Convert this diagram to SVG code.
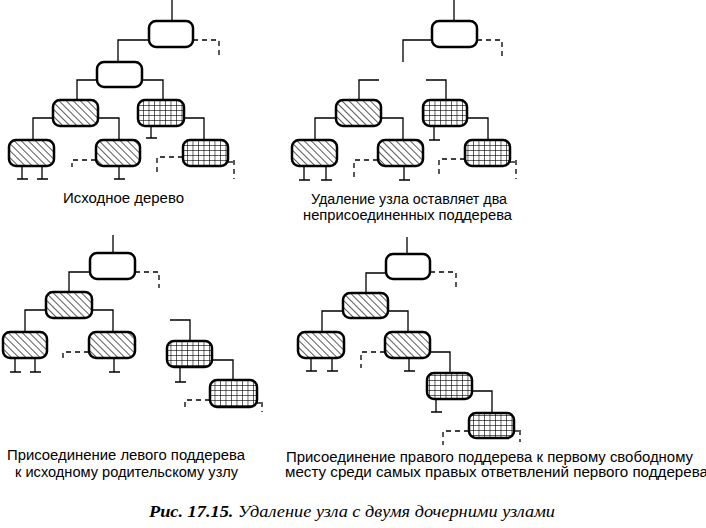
<svg xmlns="http://www.w3.org/2000/svg" width="706" height="528" viewBox="0 0 706 528">
<defs>
<pattern id="hatch" patternUnits="userSpaceOnUse" width="5" height="5" patternTransform="rotate(-45)">
<line x1="0" y1="-1" x2="0" y2="6" stroke="#000" stroke-width="1.3"/>
</pattern>
<pattern id="grid" patternUnits="userSpaceOnUse" width="5.5" height="5">
<line x1="0" y1="0" x2="0" y2="5" stroke="#000" stroke-width="1.2"/>
<line x1="0" y1="0" x2="5.5" y2="0" stroke="#000" stroke-width="1.2"/>
</pattern>
</defs>
<style>
rect{stroke:#000;stroke-width:2.5}
.w{fill:#fff}
.h{fill:url(#hatch)}
.g{fill:url(#grid)}
.c path{fill:none;stroke:#000;stroke-width:1.3}
.c path.d{stroke-dasharray:5 4}
text{font-family:"Liberation Sans",Arial,sans-serif;font-size:14px;fill:#000}
.cap{font-family:"Liberation Serif","Times New Roman",serif;font-style:italic;font-size:17px}
</style>
<rect width="706" height="528" fill="#fff" style="stroke:none"/>

<g class="c" id="connectors">
<!-- tree 1 -->
<path d="M172,0V21"/>
<path class="d" d="M193,40H219V56"/>
<path d="M149,40H118V62"/>
<path d="M97,80H77V100"/>
<path d="M142,80H163V100"/>
<path d="M53,118H33V140"/>
<path d="M98,118H119V140"/>
<path d="M151,126V138M146,138H157"/>
<path d="M184,118H204V140"/>
<path d="M22,166V179M17,179H28M42,166V179M37,179H48"/>
<path class="d" d="M96,160H72V167"/>
<path d="M119,166V179M114,179H125"/>
<path class="d" d="M183,157H157V175"/>
<path d="M228,162H233"/><path class="d" d="M234,160V179"/>
<!-- tree 2 -->
<path d="M454,0V21"/>
<path class="d" d="M477,40H502V56"/>
<path d="M432,40H403V62"/>
<path d="M379,80H359V100"/>
<path d="M426,80H446V100"/>
<path d="M336,118H315V140"/>
<path d="M381,118H403V140"/>
<path d="M304,166V180M299,180H310M326,166V180M321,180H332"/>
<path class="d" d="M378,160H354V177"/>
<path d="M404,166V180M399,180H410"/>
<path d="M434,126V140M429,140H440"/>
<path d="M467,118H488V140"/>
<path class="d" d="M465,159H439V177"/>
<path d="M510,162H515"/><path class="d" d="M516,160V179"/>
<!-- tree 3 -->
<path d="M113,235V253"/>
<path class="d" d="M135,272H159V288"/>
<path d="M90,272H69V292"/>
<path d="M46,310H25V332"/>
<path d="M92,310H113V332"/>
<path d="M15,358V372M10,372H21M35,358V372M30,372H41"/>
<path class="d" d="M89,352H63V359"/>
<path d="M114,358V372M109,372H120"/>
<path d="M170,320H190V341"/>
<path d="M180,367V382M175,382H186"/>
<path d="M212,360H233V380"/>
<path class="d" d="M210,400H185V407"/>
<path d="M257,403H261"/><path class="d" d="M262,402V412"/>
<!-- tree 4 -->
<path d="M407,237V254"/>
<path class="d" d="M430,272H456V287"/>
<path d="M386,273H366V293"/>
<path d="M343,311H322V332"/>
<path d="M388,311H408V332"/>
<path d="M311,358V371M306,371H317M332,358V371M327,371H338"/>
<path class="d" d="M385,352H361V368"/>
<path d="M409,358V371M404,371H415"/>
<path d="M430,352H450V373"/>
<path d="M436,399V412M431,412H442"/>
<path d="M472,391H492V413"/>
<path class="d" d="M469,431H443V445"/>
<path d="M514,431H519"/><path class="d" d="M520,430V442"/>
</g>

<g id="t1-root"><rect class="w" x="149" y="21" width="44" height="26" rx="7"/></g>
<g id="t1-n2"><rect class="w" x="97" y="62" width="45" height="25" rx="7"/></g>
<g id="t1-n3"><rect class="h" x="53" y="100" width="45" height="26" rx="7"/></g>
<g id="t1-n4"><rect class="g" x="138" y="100" width="46" height="26" rx="7"/></g>
<g id="t1-n5"><rect class="h" x="9" y="140" width="45" height="26" rx="7"/></g>
<g id="t1-n6"><rect class="h" x="96" y="140" width="44" height="26" rx="7"/></g>
<g id="t1-n7"><rect class="g" x="183" y="140" width="45" height="26" rx="7"/></g>

<g id="t2-root"><rect class="w" x="432" y="21" width="45" height="26" rx="7"/></g>
<g id="t2-n3"><rect class="h" x="336" y="100" width="45" height="26" rx="7"/></g>
<g id="t2-n4"><rect class="g" x="423" y="100" width="44" height="26" rx="7"/></g>
<g id="t2-n5"><rect class="h" x="292" y="140" width="45" height="26" rx="7"/></g>
<g id="t2-n6"><rect class="h" x="378" y="140" width="45" height="26" rx="7"/></g>
<g id="t2-n7"><rect class="g" x="465" y="140" width="45" height="26" rx="7"/></g>

<g id="t3-root"><rect class="w" x="90" y="253" width="45" height="26" rx="7"/></g>
<g id="t3-n3"><rect class="h" x="46" y="292" width="46" height="26" rx="7"/></g>
<g id="t3-n5"><rect class="h" x="3" y="332" width="44" height="26" rx="7"/></g>
<g id="t3-n6"><rect class="h" x="89" y="332" width="46" height="26" rx="7"/></g>
<g id="t3-n4"><rect class="g" x="167" y="341" width="45" height="26" rx="7"/></g>
<g id="t3-n7"><rect class="g" x="210" y="380" width="47" height="27" rx="7"/></g>

<g id="t4-root"><rect class="w" x="386" y="254" width="44" height="25" rx="7"/></g>
<g id="t4-n3"><rect class="h" x="343" y="293" width="45" height="25" rx="7"/></g>
<g id="t4-n5"><rect class="h" x="298" y="332" width="46" height="26" rx="7"/></g>
<g id="t4-n6"><rect class="h" x="385" y="332" width="45" height="26" rx="7"/></g>
<g id="t4-n4"><rect class="g" x="427" y="373" width="45" height="26" rx="7"/></g>
<g id="t4-n7"><rect class="g" x="469" y="413" width="45" height="25" rx="7"/></g>

<g id="labels">
<text x="63" y="203" textLength="121" lengthAdjust="spacingAndGlyphs">Исходное дерево</text>
<text x="311" y="204" textLength="196" lengthAdjust="spacingAndGlyphs">Удаление узла оставляет два</text>
<text x="303" y="220" textLength="209" lengthAdjust="spacingAndGlyphs">неприсоединенных поддерева</text>
<text x="7" y="460" textLength="238" lengthAdjust="spacingAndGlyphs">Присоединение левого поддерева</text>
<text x="15" y="477" textLength="223" lengthAdjust="spacingAndGlyphs">к исходному родительскому узлу</text>
<text x="286" y="462" textLength="407" lengthAdjust="spacingAndGlyphs">Присоединение правого поддерева к первому свободному</text>
<text x="285" y="477" textLength="423" lengthAdjust="spacingAndGlyphs">месту среди самых правых ответвлений первого поддерева</text>
<text class="cap" x="149" y="517" textLength="406" lengthAdjust="spacingAndGlyphs"><tspan font-weight="bold">Рис. 17.15.</tspan> Удаление узла с двумя дочерними узлами</text>
</g>
</svg>
